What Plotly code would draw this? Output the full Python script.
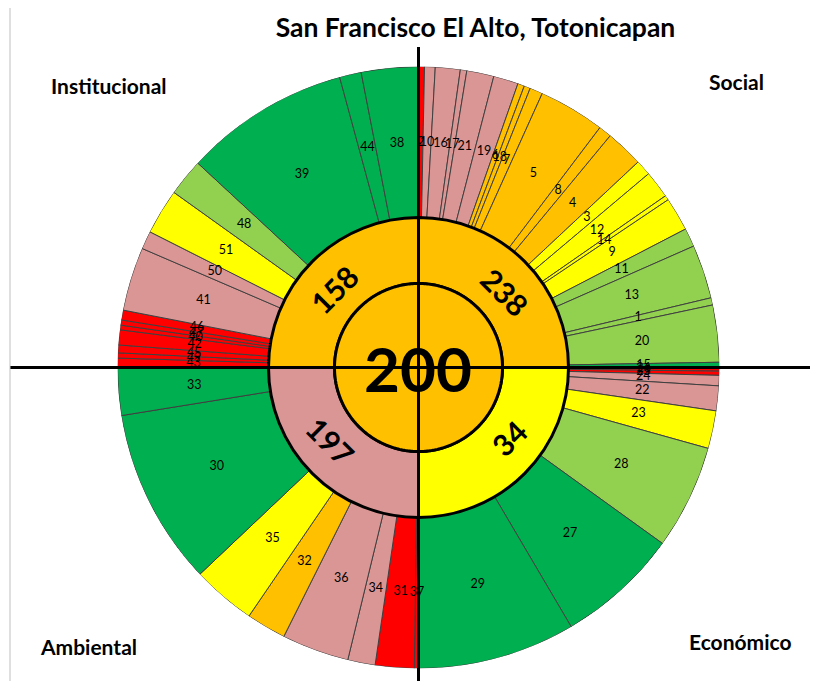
import plotly.graph_objects as go
import numpy as np

# ---------------- data ----------------
title_text = "San Francisco El Alto, Totonicapan"
overall_score = 200
overall_level = "orange"

quadrant_names = ["Social", "Económico", "Ambiental", "Institucional"]
quadrant_scores = [238, 34, 197, 158]
quadrant_levels = ["orange", "yellow", "pink", "orange"]

social_ids = [2, 10, 16, 17, 21, 19, 6, 18, 7, 5, 8, 4, 3, 12, 14, 9, 11, 13, 1, 20, 15]
social_weights = [1.15, 2.05, 4.8, 1.25, 5.25, 4.8, 1.3, 1.2, 2.5, 12.8, 2.5, 7.3, 3.0, 5.3, 0.9, 6.5, 3.6, 10.4, 1.4, 11.0, 1.0]
social_levels = ["red", "pink", "pink", "pink", "pink", "pink", "orange", "orange", "orange", "orange",
                 "orange", "orange", "yellow", "yellow", "yellow", "yellow", "lgreen", "lgreen", "lgreen",
                 "lgreen", "green"]

eco_ids = [26, 25, 24, 22, 23, 28, 27, 29]
eco_weights = [0.7, 0.8, 2.0, 4.8, 7.3, 20.2, 23.7, 30.5]
eco_levels = ["red", "red", "pink", "pink", "yellow", "lgreen", "green", "green"]

amb_ids = [37, 31, 34, 36, 32, 35, 30, 33]
amb_weights = [0.8, 7.5, 5.3, 13.0, 7.7, 12.3, 34.2, 9.2]
amb_levels = ["red", "red", "pink", "pink", "orange", "yellow", "green", "green"]

inst_ids = [43, 49, 45, 42, 40, 47, 46, 41, 50, 51, 48, 39, 44, 38]
inst_weights = [1.8, 1.0, 1.5, 2.9, 0.9, 1.0, 1.9, 12.3, 3.5, 8.8, 7.2, 32.0, 4.2, 11.0]
inst_levels = ["red"] * 7 + ["pink", "pink", "yellow", "lgreen", "green", "green", "green"]

level_colors = {
    "red": "#FF0000",
    "pink": "#DA9694",
    "orange": "#FFC000",
    "yellow": "#FFFF00",
    "lgreen": "#92D050",
    "green": "#00B050",
}

# ---------------- geometry (reference pixel coords) ----------------
OFF = 8                      # page body margin
W, H = 818 - OFF, 681 - OFF
CX, CY = 418.5, 367.5
R_OUT, R_MID, R_IN = 301, 150, 84
R_LABEL = 225
FONT = "Lato"


def px_to_paper(x, y):
    return (x - OFF) / W, 1 - (y - OFF) / H


quads = [
    (social_ids, social_weights, social_levels),
    (eco_ids, eco_weights, eco_levels),
    (amb_ids, amb_weights, amb_levels),
    (inst_ids, inst_weights, inst_levels),
]

o_theta, o_width, o_color, o_text = [], [], [], []
for qi, (ids, wts, lv) in enumerate(quads):
    wts = np.array(wts, dtype=float)
    span = 90.0 * wts / wts.sum()
    start = 90.0 * qi + np.concatenate([[0], np.cumsum(span)[:-1]])
    o_theta += list(start + span / 2)
    o_width += list(span)
    o_color += [level_colors[l] for l in lv]
    o_text += [str(i) for i in ids]

n = len(o_theta)
fig = go.Figure()

fig.add_trace(go.Barpolar(
    r=[R_OUT - R_MID] * n, base=[R_MID] * n, theta=o_theta, width=o_width,
    marker=dict(color=o_color, line=dict(color="#404040", width=1)),
    hoverinfo="skip", showlegend=False))

q_theta = [90 * i + 45 for i in range(4)]
fig.add_trace(go.Barpolar(
    r=[R_MID - R_IN] * 4, base=[R_IN] * 4, theta=q_theta, width=[90] * 4,
    marker=dict(color=[level_colors[l] for l in quadrant_levels], line=dict(color="black", width=3)),
    hoverinfo="skip", showlegend=False))

fig.add_trace(go.Barpolar(
    r=[R_IN, R_IN], base=[0, 0], theta=[90, 270], width=[180, 180],
    marker=dict(color=level_colors[overall_level], line=dict(color=level_colors[overall_level], width=0)),
    hoverinfo="skip", showlegend=False))

fig.add_trace(go.Scatterpolar(
    r=[R_LABEL] * n, theta=o_theta, text=o_text, mode="text",
    textfont=dict(family=FONT, size=12.5, color="black"),
    hoverinfo="skip", showlegend=False))

circ_t = np.linspace(0, 360, 361)
fig.add_trace(go.Scatterpolar(
    r=[R_IN] * len(circ_t), theta=circ_t, mode="lines",
    line=dict(color="black", width=3), hoverinfo="skip", showlegend=False))

dx0, dy0 = px_to_paper(CX - R_OUT, CY + R_OUT)
dx1, dy1 = px_to_paper(CX + R_OUT, CY - R_OUT)
tx, ty = px_to_paper(475.5, 28)

fig.update_layout(
    width=W, height=H,
    margin=dict(l=0, r=0, t=0, b=0),
    paper_bgcolor="white", plot_bgcolor="white",
    polar=dict(
        domain=dict(x=[dx0, dx1], y=[dy0, dy1]),
        bgcolor="rgba(0,0,0,0)",
        radialaxis=dict(range=[0, R_OUT], visible=False),
        angularaxis=dict(rotation=90, direction="clockwise", visible=False),
    ),
    title=dict(text="<b>" + title_text + "</b>", x=tx, xanchor="center",
               y=ty, yanchor="middle", font=dict(family=FONT, size=26.5, color="black")),
)

annotations = []
cx_p, cy_p = px_to_paper(CX, CY)
annotations.append(dict(x=cx_p, y=cy_p, xref="paper", yref="paper", text="<b>%d</b>" % overall_score,
                        showarrow=False, font=dict(family=FONT, size=62, color="black"),
                        xanchor="center", yanchor="middle"))
r_q = 115
label_theta = [49, 128, 230, 313]
label_angle = [45, -45, 45, -45]
for th, ang, sc in zip(label_theta, label_angle, quadrant_scores):
    x = CX + r_q * np.sin(np.radians(th))
    y = CY - r_q * np.cos(np.radians(th))
    xp, yp = px_to_paper(x, y)
    annotations.append(dict(x=xp, y=yp, xref="paper", yref="paper", text="<b>%d</b>" % sc,
                            showarrow=False, textangle=ang,
                            font=dict(family=FONT, size=30, color="black"),
                            xanchor="center", yanchor="middle"))
name_pos = [(736, 81), (740, 641), (88, 646), (109, 85)]
for nm, (x, y) in zip(quadrant_names, name_pos):
    xp, yp = px_to_paper(x, y)
    annotations.append(dict(x=xp, y=yp, xref="paper", yref="paper", text="<b>%s</b>" % nm,
                            showarrow=False, font=dict(family=FONT, size=21, color="black"),
                            xanchor="center", yanchor="middle"))
fig.update_layout(annotations=annotations)

hx0, hy = px_to_paper(10, CY)
vx, vy0 = px_to_paper(CX, 47)
lx, _ = px_to_paper(10, 0)
shapes = [
    dict(type="line", xref="paper", yref="paper", x0=hx0, x1=1, y0=hy, y1=hy,
         line=dict(color="black", width=3)),
    dict(type="line", xref="paper", yref="paper", x0=vx, x1=vx, y0=vy0, y1=0,
         line=dict(color="black", width=3)),
    dict(type="line", xref="paper", yref="paper", x0=lx, x1=lx, y0=0, y1=1,
         line=dict(color="#BFBFBF", width=1)),
]
fig.update_layout(shapes=shapes)

fig.write_html("out.html")
